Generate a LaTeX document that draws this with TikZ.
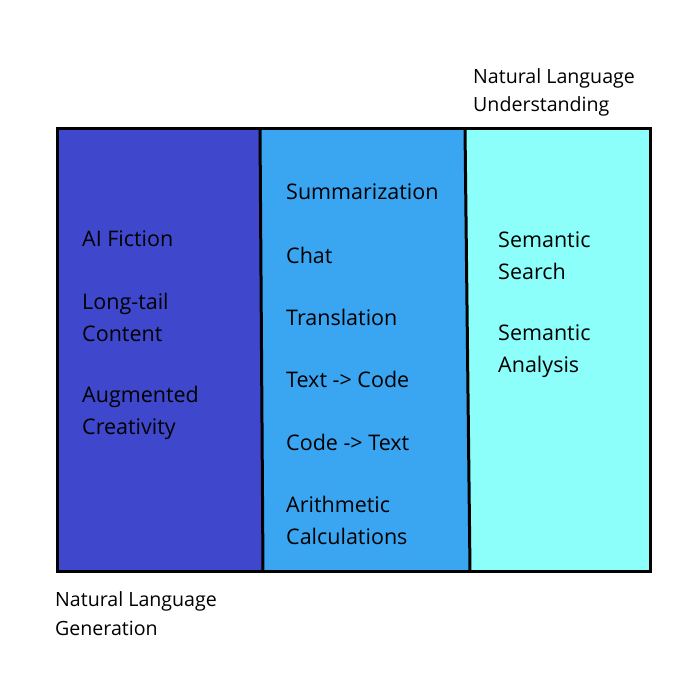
\documentclass[tikz,border=0pt]{standalone}
\usepackage{fontspec}
\setmainfont{Open Sans}
\definecolor{colA}{HTML}{3F48CC}
\definecolor{colB}{HTML}{3AA6F2}
\definecolor{colC}{HTML}{8CFFFB}
\begin{document}
\begin{tikzpicture}[x=1pt,y=-1pt,
  item/.style={anchor=base west,align=left,inner sep=0pt,font=\fontsize{21.5}{31.5}\selectfont},
  lab/.style={anchor=base west,align=left,inner sep=0pt,font=\fontsize{19.6}{28.3}\selectfont},
  edge/.style={line width=3pt,line join=miter}]
\useasboundingbox (0,0) rectangle (700,700);
% columns
\fill[colA] (57,129) -- (260,129) -- (263,571) -- (57,571) -- cycle;
\fill[colB] (260,129) -- (465,129) -- (470,571) -- (263,571) -- cycle;
\fill[colC] (465,129) -- (650,129) -- (650,571) -- (470,571) -- cycle;
\coordinate (d1t) at (260,129);
\coordinate (d1b) at (263,571);
\coordinate (d2t) at (465,129);
\coordinate (d2b) at (470,571);
\draw[edge] (d1t) -- (d1b);
\draw[edge] (d2t) -- (d2b);
\draw[edge] (57,129) rectangle (650,571);
% left column (base anchor = baseline of the last line)
\node[item] (a1) at (82,247) {AI Fiction};
\node[item] (a2) at (82,341) {Long-tail\\Content};
\node[item] (a3) at (82,434) {Augmented\\Creativity};
% middle column
\node[item] (b1) at (286,200) {Summarization};
\node[item] (b2) at (286,263) {Chat};
\node[item] (b3) at (286,325) {Translation};
\node[item] (b4) at (286,387) {Text -> Code};
\node[item] (b5) at (286,450) {Code -> Text};
\node[item] (b6) at (286,544) {Arithmetic\\Calculations};
% right column
\node[item] (c1) at (498,279) {Semantic\\Search};
\node[item] (c2) at (498,372) {Semantic\\Analysis};
% labels
\node[lab] (nlu) at (473,111.5) {Natural Language\\Understanding};
\node[lab] (nlg) at (55,635) {Natural Language\\Generation};
\end{tikzpicture}
\end{document}
